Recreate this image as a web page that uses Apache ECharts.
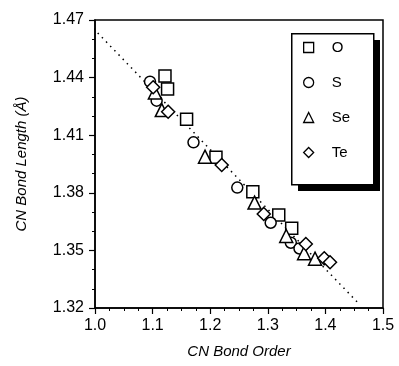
<!DOCTYPE html>
<html>
<head>
<meta charset="utf-8">
<script src="https://cdn.jsdelivr.net/npm/echarts@6/dist/echarts.min.js"></script>
<style>html,body{margin:0;padding:0;background:#fff;}#c{width:399px;height:366px;}</style>
</head>
<body>
<div id="c"></div>
<script>
// Data
const seriesNames = ['O', 'S', 'Se', 'Te'];
const seriesSymbols = ['rect', 'circle', 'triangle', 'diamond'];
const dataO = [[1.1215,1.4408],[1.126,1.434],[1.159,1.4183],[1.210,1.3985],[1.274,1.3806],[1.319,1.3684],[1.3415,1.3615]];
const dataS = [[1.0955,1.4379],[1.107,1.428],[1.171,1.4063],[1.247,1.3827],[1.305,1.3644],[1.340,1.354],[1.355,1.351]];
const dataSe = [[1.104,1.4323],[1.116,1.4231],[1.191,1.3988],[1.277,1.3749],[1.332,1.3575],[1.363,1.3485],[1.382,1.3457]];
const dataTe = [[1.101,1.435],[1.127,1.4222],[1.220,1.3945],[1.293,1.369],[1.366,1.3533],[1.398,1.3459],[1.408,1.3438]];
const fitLine = [[0.983,1.4700],[1.457,1.3226]];
const xTicks = [1.0, 1.1, 1.2, 1.3, 1.4, 1.5];
const yTicks = [1.32, 1.35, 1.38, 1.41, 1.44, 1.47];

const allData = [dataO, dataS, dataSe, dataTe];
const sizes = [12, 11, 13, 13];
const FONT = 'Liberation Sans';

const chart = echarts.init(document.getElementById('c'), null, {renderer: 'canvas'});
const series = allData.map((d, i) => ({
  name: seriesNames[i],
  type: 'scatter',
  data: d,
  symbol: seriesSymbols[i],
  symbolSize: sizes[i],
  itemStyle: {color: '#fff', borderColor: '#000', borderWidth: 1.5, opacity: 1},
  emphasis: {disabled: true},
  z: 3
}));
series.unshift({
  name: 'fit',
  type: 'line',
  data: fitLine,
  symbol: 'none',
  clip: false,
  lineStyle: {color: '#000', width: 1.5, type: [1.5, 4.5]},
  silent: true,
  z: 2
});

chart.setOption({
  animation: false,
  backgroundColor: '#fff',
  grid: {left: 95, right: 16, top: 20, bottom: 58, show: true, borderColor: '#000', borderWidth: 1.5, backgroundColor: 'transparent'},
  xAxis: {
    type: 'value', min: xTicks[0], max: xTicks[xTicks.length - 1], interval: 0.1,
    name: 'CN Bond Order', nameLocation: 'middle', nameGap: 36,
    nameTextStyle: {fontFamily: FONT, fontSize: 15, fontStyle: 'italic', color: '#000'},
    axisLine: {lineStyle: {color: '#000', width: 1.5}},
    axisTick: {show: true, inside: false, length: 6, lineStyle: {color: '#000', width: 1.2}},
    minorTick: {show: true, splitNumber: 4, length: 3, lineStyle: {color: '#000', width: 1}},
    splitLine: {show: false},
    axisLabel: {fontFamily: FONT, fontSize: 16, color: '#000', margin: 10, formatter: v => v.toFixed(1)}
  },
  yAxis: {
    type: 'value', min: yTicks[0], max: yTicks[yTicks.length - 1], interval: 0.03,
    name: 'CN Bond Length (Å)', nameLocation: 'middle', nameGap: 66, nameRotate: 90,
    nameTextStyle: {fontFamily: FONT, fontSize: 15, fontStyle: 'italic', color: '#000'},
    axisLine: {lineStyle: {color: '#000', width: 1.5}},
    axisTick: {show: true, inside: false, length: 6, lineStyle: {color: '#000', width: 1.2}},
    minorTick: {show: true, splitNumber: 3, length: 3, lineStyle: {color: '#000', width: 1}},
    splitLine: {show: false},
    axisLabel: {fontFamily: FONT, fontSize: 16, color: '#000', margin: 11, formatter: v => v.toFixed(2)}
  },
  graphic: [
    {type: 'rect', left: 298, top: 40, shape: {width: 82, height: 151}, style: {fill: '#000'}, z: 5, silent: true},
    {type: 'rect', left: 291, top: 33, shape: {width: 82, height: 151}, style: {fill: '#fff', stroke: '#000', lineWidth: 1.5}, z: 6, silent: true}
  ],
  legend: {
    data: seriesNames,
    orient: 'vertical',
    left: 291, top: 33,
    padding: [7, 24, 24, 12],
    itemWidth: 10, itemHeight: 10, itemGap: 20,
    backgroundColor: 'transparent', borderWidth: 0,
    itemStyle: {color: '#fff', borderColor: '#000', borderWidth: 1.3},
    textStyle: {fontFamily: FONT, fontSize: 15, color: '#000', lineHeight: 15, padding: [0, 0, 0, 13]},
    selectedMode: false,
    z: 10
  },
  series: series
});
</script>
</body>
</html>
